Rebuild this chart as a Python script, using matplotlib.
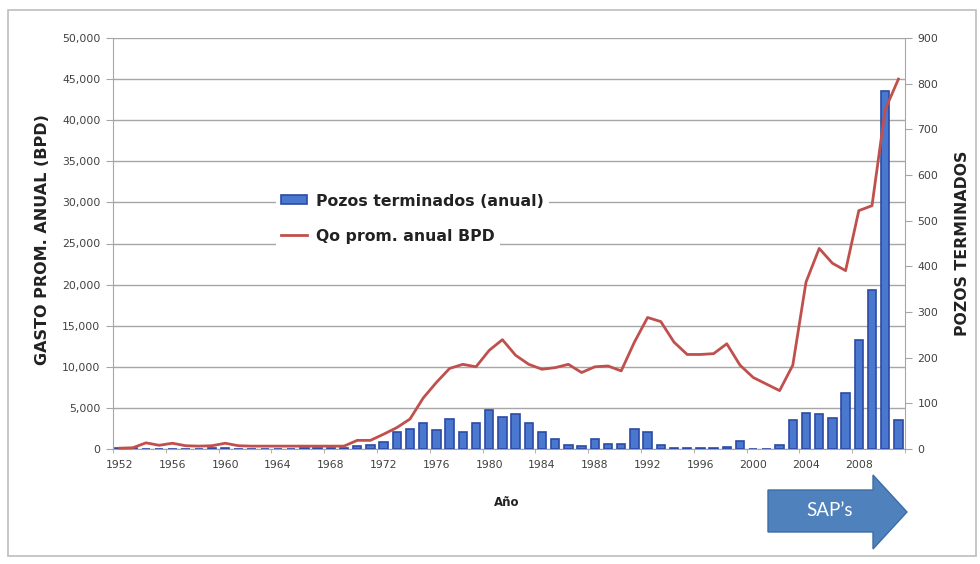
import numpy as np
import matplotlib.pyplot as plt
from matplotlib.patches import Patch, Polygon, Rectangle
from matplotlib.lines import Line2D
from matplotlib.ticker import FuncFormatter

# Datos anuales
anios = list(range(1952, 2012))

pozos = [2, 2, 0, 0, 0, 0, 0, 2, 2, 0,
         0, 0, 0, 0, 2, 2, 3, 3, 6, 9,
         15, 38, 44, 57, 41, 65, 37, 56, 86, 70,
         77, 57, 38, 21, 9, 6, 21, 10, 12, 43,
         38, 9, 3, 2, 2, 3, 5, 18, 0, 0,
         8, 63, 79, 76, 67, 122, 238, 348, 783, 63]

qo = [100, 150, 750, 450, 700, 400, 350, 400, 700, 400,
      350, 350, 350, 350, 350, 350, 350, 350, 1050, 1050,
      1800, 2600, 3650, 6200, 8100, 9800, 10300, 10000, 12000, 13300,
      11400, 10300, 9700, 9900, 10300, 9300, 10000, 10100, 9500, 13000,
      16000, 15500, 13000, 11500, 11500, 11600, 12800, 10200, 8700, 7900,
      7100, 10200, 20300, 24400, 22600, 21700, 29000, 29600, 41300, 45000]

etiquetas_x = list(range(1952, 2012, 4))

W, H = 980, 564
fig = plt.figure(figsize=(W / 100, H / 100), dpi=100)

def px(x, y):
    return x / W, 1 - y / H

# marco del grafico
fig.add_artist(Rectangle(px(8, 556), 968 / W, 546 / H, transform=fig.transFigure,
                         fill=False, edgecolor='#bdbdbd', linewidth=1.2))

izq, abajo = px(113, 449)
ancho, alto = (905 - 113) / W, (449 - 38) / H

gris = '#a6a6a6'
texto = '#404040'
negrita = dict(family='DejaVu Sans', fontweight='bold', color='#222222')

# eje izquierdo: escala del gasto y lineas de division
ax = fig.add_axes([izq, abajo, ancho, alto])
ax.set_xlim(1951.5, 2011.5)
ax.set_ylim(0, 50000)
ax.set_yticks(range(0, 50001, 5000))
ax.yaxis.set_major_formatter(FuncFormatter(lambda v, p: f'{int(v):,}'))
ax.grid(axis='y', color=gris, linewidth=1)
ax.set_axisbelow(True)
for s in ['top', 'right']:
    ax.spines[s].set_visible(False)
for s in ['left', 'bottom']:
    ax.spines[s].set_color(gris)
ax.tick_params(axis='y', colors=gris, labelcolor=texto, labelsize=7.8, length=5, pad=4)
ax.set_xticks(etiquetas_x)
ax.set_xticks(np.arange(1951.5, 2011.6, 4), minor=True)
ax.tick_params(axis='x', which='major', length=0, labelsize=7.8, labelcolor=texto, pad=8)
ax.tick_params(axis='x', which='minor', length=3, color=gris)
ax.set_ylabel('GASTO PROM. ANUAL (BPD)', fontsize=11.5, **negrita)
ax.yaxis.set_label_coords(-0.08, 0.51)
ax.set_xlabel('Año', fontsize=8.5, **negrita)
ax.xaxis.set_label_coords(0.497, -0.115)

# eje derecho: pozos terminados
axr = ax.twinx()
axr.set_zorder(ax.get_zorder() + 1)
axr.patch.set_visible(False)
axr.set_ylim(0, 900)
axr.set_yticks(range(0, 901, 100))
axr.bar(anios, pozos, width=0.64, color='#4a78cf', edgecolor='#2b4aa6', linewidth=1.2)
for s in ['top', 'left', 'bottom']:
    axr.spines[s].set_visible(False)
axr.spines['right'].set_color(gris)
axr.tick_params(axis='y', colors=gris, labelcolor=texto, labelsize=7.8, length=5, pad=4)
axr.set_ylabel('POZOS TERMINADOS', fontsize=11.3, rotation=90, **negrita)
axr.yaxis.set_label_coords(1.063, 0.50)

# linea del gasto encima de las barras
axl = ax.twinx()
axl.set_zorder(axr.get_zorder() + 1)
axl.patch.set_visible(False)
axl.set_ylim(0, 50000)
axl.axis('off')
axl.plot(anios, qo, color='#c0504d', linewidth=2, clip_on=False)

# leyenda, cada entrada con su fondo blanco
h_barra = Patch(facecolor='#4a78cf', edgecolor='#2b4aa6', linewidth=1.2)
h_linea = Line2D([], [], color='#c0504d', linewidth=2)
estilo = dict(frameon=True, framealpha=1, facecolor='white', edgecolor='none',
              fancybox=False, loc='center left', handlelength=1.6, handleheight=0.5,
              handletextpad=0.6, borderpad=0.35, borderaxespad=0,
              bbox_transform=fig.transFigure,
              prop={'family': 'DejaVu Sans', 'weight': 'bold', 'size': 11.3})
leg1 = axl.legend([h_barra], ['Pozos terminados (anual)'], bbox_to_anchor=px(276, 201), **estilo)
axl.add_artist(leg1)
leg2 = axl.legend([h_linea], ['Qo prom. anual BPD'], bbox_to_anchor=px(276, 236), **estilo)
for lg in (leg1, leg2):
    for t in lg.get_texts():
        t.set_color('#222222')

# flecha SAP's
flecha = [(768, 490), (873, 490), (873, 475), (907, 512), (873, 549),
          (873, 532), (768, 532)]
fig.add_artist(Polygon([px(x, y) for x, y in flecha], closed=True, transform=fig.transFigure,
                       facecolor='#4f81bd', edgecolor='#3d6ca6', linewidth=1))
fig.text(*px(830, 511), 'SAP’s', family='Lato', fontsize=13.5, color='white',
         ha='center', va='center')

fig.savefig('out.png', dpi=100)
